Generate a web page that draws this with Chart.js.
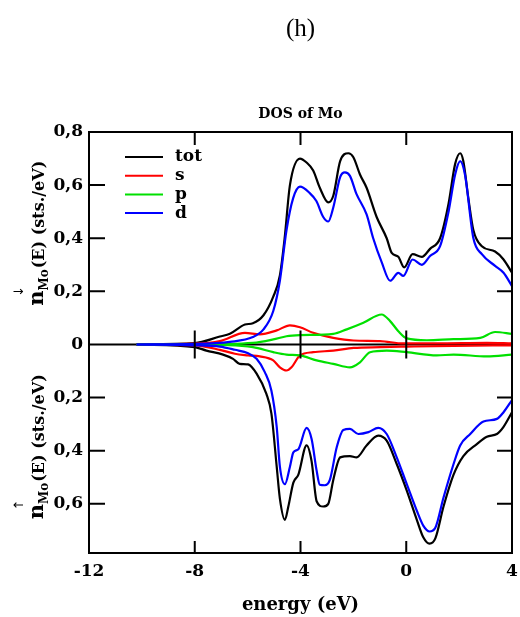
<!DOCTYPE html>
<html>
<head>
<meta charset="utf-8">
<script src="https://cdn.jsdelivr.net/npm/chart.js@4.4.1/dist/chart.umd.min.js"></script>
<style>
  html, body { margin: 0; padding: 0; background: #fff; }
  #wrap { width: 520px; height: 617px; }
</style>
</head>
<body>
<div id="wrap"><canvas id="dosChart" width="520" height="617"></canvas></div>
<script>
// energy grids (eV) and partial DOS values; spin-down drawn upward, spin-up downward
const totUpE = [-10.2,-8,-7.05,-6.67,-6.1,-5.8,-5.4,-5.03,-4.78,-4.6,-4.4,-4.02,-3.77,-3.52,-3.27,-2.95,-2.76,-2.5,-2.19,-2.0,-1.75,-1.5,-1.12,-0.74,-0.55,-0.3,-0.08,0.24,0.59,0.9,1.28,1.6,1.85,2.04,2.16,2.35,2.54,2.86,3.36,3.68,4.0];
const totUpN = [0,0.005,0.03,0.04,0.075,0.08,0.11,0.18,0.26,0.40,0.60,0.70,0.685,0.655,0.59,0.535,0.56,0.69,0.72,0.705,0.64,0.59,0.48,0.40,0.345,0.33,0.29,0.34,0.33,0.36,0.40,0.53,0.68,0.72,0.69,0.55,0.43,0.37,0.35,0.32,0.27];

const sUpE = [-10.2,-8,-7.05,-6.1,-5.54,-4.9,-4.4,-4.02,-3.52,-2.76,-2.0,-0.99,-0.11,1.15,3.05,4.0];
const sUpN = [0,0.003,0.013,0.044,0.038,0.053,0.072,0.065,0.044,0.025,0.015,0.013,0.004,0.004,0.006,0.004];

const pUpE = [-10.2,-8,-5.8,-5.03,-4.53,-4.02,-2.76,-2.25,-1.62,-0.93,-0.61,-0.3,0.02,0.78,1.79,2.8,3.36,4.0];
const pUpN = [0,0,0.006,0.019,0.031,0.035,0.04,0.057,0.082,0.113,0.088,0.05,0.023,0.016,0.02,0.025,0.047,0.04];

const dUpE = [-10.2,-8,-6.67,-5.8,-5.4,-5.03,-4.78,-4.53,-4.28,-4.02,-3.65,-3.4,-3.14,-2.95,-2.76,-2.5,-2.32,-2.13,-1.88,-1.5,-1.25,-0.93,-0.61,-0.3,-0.11,0.24,0.59,0.9,1.28,1.6,1.85,2.04,2.22,2.54,2.86,3.36,3.68,4.0];
const dUpN = [0,0.002,0.01,0.028,0.057,0.126,0.24,0.43,0.55,0.594,0.57,0.54,0.48,0.463,0.516,0.63,0.648,0.635,0.566,0.49,0.40,0.31,0.24,0.27,0.258,0.32,0.30,0.333,0.37,0.50,0.64,0.69,0.64,0.40,0.34,0.296,0.27,0.22];

const totDnE = [-10.2,-8,-7.56,-6.93,-6.55,-6.3,-5.98,-5.66,-5.29,-5.1,-4.9,-4.78,-4.59,-4.46,-4.27,-4.08,-3.77,-3.58,-3.39,-3.14,-2.95,-2.76,-2.5,-2.13,-1.88,-1.5,-1.06,-0.74,-0.36,0.02,0.4,0.65,0.88,1.1,1.41,1.79,2.16,2.67,3.05,3.43,3.68,4.0];
const totDnN = [0,-0.01,-0.023,-0.038,-0.054,-0.073,-0.075,-0.11,-0.186,-0.26,-0.46,-0.58,-0.66,-0.61,-0.52,-0.49,-0.38,-0.44,-0.59,-0.61,-0.60,-0.51,-0.425,-0.42,-0.425,-0.38,-0.343,-0.362,-0.45,-0.55,-0.66,-0.727,-0.75,-0.73,-0.61,-0.49,-0.42,-0.375,-0.347,-0.337,-0.31,-0.255];

const sDnE = [-10.2,-8,-7.05,-6.48,-5.98,-5.54,-5.03,-4.78,-4.53,-4.34,-4.02,-3.52,-2.76,-1.99,-0.99,0.02,1.79,4.0];
const sDnN = [0,-0.003,-0.02,-0.035,-0.041,-0.045,-0.06,-0.086,-0.098,-0.086,-0.041,-0.029,-0.023,-0.013,-0.01,-0.008,-0.005,-0.003];

const pDnE = [-10.2,-8,-5.8,-5.03,-4.53,-4.02,-3.39,-2.76,-2.13,-1.75,-1.37,-0.74,0.02,1.15,1.79,3.05,4.0];
const pDnN = [0,0,-0.01,-0.029,-0.038,-0.041,-0.06,-0.073,-0.086,-0.067,-0.029,-0.023,-0.029,-0.041,-0.038,-0.045,-0.038];

const dDnE = [-10.2,-8,-7.05,-6.48,-5.98,-5.66,-5.35,-5.1,-4.9,-4.78,-4.59,-4.4,-4.27,-4.08,-3.77,-3.58,-3.39,-3.27,-3.08,-2.89,-2.63,-2.38,-2.13,-1.81,-1.43,-1.06,-0.74,-0.36,0.02,0.4,0.65,0.88,1.1,1.41,1.79,2.04,2.42,2.92,3.43,3.68,4.0];
const dDnN = [0,-0.003,-0.008,-0.02,-0.033,-0.054,-0.104,-0.174,-0.31,-0.46,-0.526,-0.46,-0.406,-0.394,-0.314,-0.356,-0.475,-0.528,-0.53,-0.51,-0.387,-0.322,-0.318,-0.337,-0.33,-0.314,-0.337,-0.425,-0.526,-0.626,-0.683,-0.704,-0.69,-0.576,-0.45,-0.38,-0.337,-0.29,-0.28,-0.255,-0.209];

const legendLabels = ['tot', 's', 'p', 'd'];
const legendColors = ['#000000', '#ff0000', '#00e000', '#0000ff'];

const xTickValues = [-12, -8, -4, 0, 4];
const yTickValues = [0.8, 0.6, 0.4, 0.2, 0, -0.2, -0.4, -0.6];
const yTickLabels = ['0,8', '0,6', '0,4', '0,2', '0', '0,2', '0,4', '0,6'];

const SERIF = '"DejaVu Serif", "Liberation Serif", serif';

function toPoints(es, ns) {
    return es.map((e, i) => ({ x: e, y: ns[i] }));
}

function makeSet(label, color, es, ns) {
    return {
        label: label,
        data: toPoints(es, ns),
        borderColor: color,
        backgroundColor: color,
        borderWidth: 2.2,
        pointRadius: 0,
        showLine: true,
        fill: false,
        cubicInterpolationMode: 'monotone'
    };
}

const datasets = [
    makeSet('d', legendColors[3], dUpE, dUpN),
    makeSet('d', legendColors[3], dDnE, dDnN),
    makeSet('p', legendColors[2], pUpE, pUpN),
    makeSet('p', legendColors[2], pDnE, pDnN),
    makeSet('s', legendColors[1], sUpE, sUpN),
    makeSet('s', legendColors[1], sDnE, sDnN),
    makeSet('tot', legendColors[0], totUpE, totUpN),
    makeSet('tot', legendColors[0], totDnE, totDnN)
];

// draws frame, inner ticks, zero line, legend and all the extra labels
const decorPlugin = {
    id: 'decor',
    beforeDatasetsDraw(chart) {
        const { ctx, chartArea: a, scales } = chart;
        const y0 = scales.y.getPixelForValue(0);
        ctx.save();
        ctx.strokeStyle = '#000';
        ctx.lineWidth = 2;
        ctx.beginPath();
        ctx.moveTo(a.left, y0);
        ctx.lineTo(a.right, y0);
        ctx.stroke();
        ctx.restore();
    },
    afterDatasetsDraw(chart) {
        const { ctx, chartArea: a, scales } = chart;
        const xs = scales.x, ys = scales.y;
        const y0 = ys.getPixelForValue(0);
        ctx.save();
        ctx.strokeStyle = '#000';
        ctx.lineWidth = 2;
        ctx.strokeRect(a.left, a.top, a.right - a.left, a.bottom - a.top);

        ctx.beginPath();
        xTickValues.forEach(v => {
            if (v <= xs.min || v >= xs.max) return;
            const px = xs.getPixelForValue(v);
            ctx.moveTo(px, a.top); ctx.lineTo(px, a.top + 13);
            ctx.moveTo(px, a.bottom); ctx.lineTo(px, a.bottom - 12);
            ctx.moveTo(px, y0 - 14); ctx.lineTo(px, y0 + 14);
        });
        yTickValues.forEach(v => {
            if (v === 0 || v >= ys.max || v <= ys.min) return;
            const py = ys.getPixelForValue(v);
            ctx.moveTo(a.left, py); ctx.lineTo(a.left + 16, py);
            ctx.moveTo(a.right - 15, py); ctx.lineTo(a.right, py);
        });
        ctx.stroke();

        // legend
        ctx.textAlign = 'left';
        ctx.textBaseline = 'middle';
        ctx.font = 'bold 17px ' + SERIF;
        legendLabels.forEach((lab, i) => {
            const ly = a.top + 25 + i * 18.7;
            ctx.strokeStyle = legendColors[i];
            ctx.beginPath();
            ctx.moveTo(a.left + 36, ly);
            ctx.lineTo(a.left + 74, ly);
            ctx.stroke();
            ctx.fillStyle = '#000';
            ctx.fillText(lab, a.left + 86, ly);
        });
        ctx.restore();
    },
    afterDraw(chart) {
        const { ctx, chartArea: a, scales } = chart;
        const cx = (a.left + a.right) / 2;
        ctx.save();
        ctx.fillStyle = '#000';
        ctx.textAlign = 'center';
        ctx.textBaseline = 'middle';

        ctx.font = '25px "Liberation Serif", serif';
        ctx.fillText('(h)', cx, 29);

        ctx.font = 'bold 14px ' + SERIF;
        ctx.fillText('DOS of Mo', cx, 114);

        ctx.font = 'bold 18px ' + SERIF;
        ctx.fillText('energy (eV)', cx, 605);

        const ys = scales.y;
        const y0 = ys.getPixelForValue(0);
        drawYLabel(ctx, 44, (a.top + y0) / 2 - 5, '\u2193');
        drawYLabel(ctx, 44, (y0 + a.bottom) / 2 - 2, '\u2191');
        ctx.restore();
    }
};

function drawYLabel(ctx, bx, cy, arrow) {
    const fN = 'bold 21px ' + SERIF;
    const fSub = 'bold 12px ' + SERIF;
    const fRest = 'bold 16px ' + SERIF;
    const rest = '(E) (sts./eV)';
    ctx.save();
    ctx.font = fN; const wN = ctx.measureText('n').width;
    ctx.font = fSub; const wS = ctx.measureText('Mo').width;
    ctx.font = fRest; const wR = ctx.measureText(rest).width;
    const total = wN + wS + 1 + wR;
    ctx.translate(bx, cy);
    ctx.rotate(-Math.PI / 2);
    ctx.textAlign = 'left';
    ctx.textBaseline = 'alphabetic';
    let x = -total / 2;
    ctx.font = fN; ctx.fillText('n', x, -1);
    ctx.font = '13px "DejaVu Sans", sans-serif';
    ctx.textAlign = 'center';
    ctx.fillText(arrow, x + wN - 1, -21);
    ctx.textAlign = 'left';
    x += wN;
    ctx.font = fSub; ctx.fillText('Mo', x, 4);
    x += wS + 1;
    ctx.font = fRest; ctx.fillText(rest, x, 0);
    ctx.restore();
}

const ctx = document.getElementById('dosChart').getContext('2d');
new Chart(ctx, {
    type: 'scatter',
    data: { datasets: datasets },
    options: {
        responsive: false,
        devicePixelRatio: 1,
        animation: false,
        layout: { padding: { top: 132, right: 8, left: 0, bottom: 0 } },
        plugins: {
            legend: { display: false },
            tooltip: { enabled: false }
        },
        scales: {
            x: {
                type: 'linear',
                min: -12,
                max: 4,
                afterBuildTicks: s => { s.ticks = xTickValues.map(v => ({ value: v })); },
                afterFit: s => { s.height = 64; s.paddingLeft = 0; s.paddingRight = 0; },
                grid: { display: false, drawTicks: false },
                border: { display: false },
                ticks: {
                    padding: 8,
                    color: '#000',
                    font: { family: SERIF, size: 17, weight: 'bold' },
                    maxRotation: 0,
                    callback: v => String(v)
                }
            },
            y: {
                type: 'linear',
                min: -0.785,
                max: 0.8,
                afterBuildTicks: s => { s.ticks = yTickValues.map(v => ({ value: v })); },
                afterFit: s => { s.width = 89; s.paddingTop = 0; s.paddingBottom = 0; },
                grid: { display: false, drawTicks: false },
                border: { display: false },
                ticks: {
                    padding: 6,
                    color: '#000',
                    font: { family: SERIF, size: 17, weight: 'bold' },
                    callback: (v, i) => yTickLabels[i]
                }
            }
        }
    },
    plugins: [decorPlugin]
});
</script>
</body>
</html>
